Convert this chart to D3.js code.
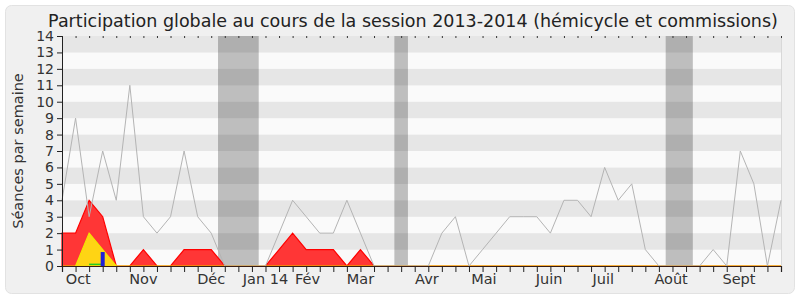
<!DOCTYPE html>
<html>
<head>
<meta charset="utf-8">
<script src="https://cdn.jsdelivr.net/npm/d3@7"></script>
<style>
  body { margin: 0; background: #ffffff; }
  svg text { font-family: "DejaVu Sans", sans-serif; fill: #333333; }
</style>
</head>
<body>
<svg id="chart" width="800" height="300"></svg>
<script>
// weekly values, week 0 .. week 53
var totalWeeks = [4,9,3,7,4,11,3,2,3,7,3,2,0,0,0,0,2,4,3,2,2,4,2,0,0,0,0,0,2,3,0,1,2,3,3,3,2,4,4,3,6,4,5,1,0,0,0,0,1,0,7,5,0,4];
var hemicycle  = [2,2,4,3,0,0,1,0,0,1,1,1,0,0,0,0,1,2,1,1,1,0,1,0,0,0,0,0,0,0,0,0,0,0,0,0,0,0,0,0,0,0,0,0,0,0,0,0,0,0,0,0,0,0];
var commission = [0,0,2,1,0,0,0,0,0,0,0,0,0,0,0,0,0,0,0,0,0,0,0,0,0,0,0,0,0,0,0,0,0,0,0,0,0,0,0,0,0,0,0,0,0,0,0,0,0,0,0,0,0,0];
var greenLine  = [0,0,0.1,0.1,0,0,0,0,0,0,0,0,0,0,0,0,0,0,0,0,0,0,0,0,0,0,0,0,0,0,0,0,0,0,0,0,0,0,0,0,0,0,0,0,0,0,0,0,0,0,0,0,0,0];
var questions  = [{week: 3, value: 0.85}];
var vacations  = [[12,14],[25,25],[45,46]];
var monthLabels = ["Oct","Nov","Déc","Jan 14","Fév","Mar","Avr","Mai","Juin","Juil","Août","Sept"];
var monthWeeks  = [1.2,6,11,15,18.1,22,26.9,31.1,35.9,39.9,44.9,49.9];
var yTicks = d3.range(0, 15);

var svg = d3.select("#chart");

var x = d3.scaleLinear().domain([0, 53]).range([62, 781]);
var y = d3.scaleLinear().domain([0, 14]).range([266, 36]);

// frame
svg.append("rect")
  .attr("x", 5.5).attr("y", 5.5).attr("width", 789).attr("height", 288)
  .attr("rx", 6).attr("fill", "#f0f0f0").attr("stroke", "#e2e2e2");

// stripes
svg.selectAll("rect.band").data(d3.range(0, 14)).enter().append("rect")
  .attr("class", "band")
  .attr("x", x(0)).attr("width", x(53) - x(0))
  .attr("y", function(k) { return y(k + 1); })
  .attr("height", function(k) { return y(k) - y(k + 1); })
  .attr("fill", function(k) { return k % 2 ? "#e6e6e6" : "#fafafa"; });

svg.append("line")
  .attr("x1", x(53) + 0.5).attr("x2", x(53) + 0.5)
  .attr("y1", y(14)).attr("y2", y(0))
  .attr("stroke", "#d8d8d8");

// vacations
svg.selectAll("rect.vac").data(vacations).enter().append("rect")
  .attr("class", "vac")
  .attr("x", function(d) { return x(d[0] - 0.5); })
  .attr("width", function(d) { return x(d[1] + 0.5) - x(d[0] - 0.5); })
  .attr("y", y(14)).attr("height", y(0) - y(14))
  .attr("fill", "#000000").attr("fill-opacity", 0.24);

var area = function(vals) {
  return d3.area()
    .x(function(d, i) { return x(i); })
    .y0(y(0))
    .y1(function(d) { return y(d); })(vals);
};
var line = function(vals, onlyPositive) {
  return d3.line()
    .defined(function(d) { return !onlyPositive || d > 0; })
    .x(function(d, i) { return x(i); })
    .y(function(d) { return y(d); })(vals);
};

svg.append("path").attr("d", area(hemicycle))
  .attr("fill", "#ff3636").attr("stroke", "#ff0000").attr("stroke-width", 1.2);

svg.append("path").attr("d", area(commission))
  .attr("fill", "#ffd414").attr("stroke", "#f2e600").attr("stroke-width", 1.2);

svg.append("path").attr("d", line(totalWeeks))
  .attr("fill", "none").attr("stroke", "#b4b4b4").attr("stroke-width", 1);

// axes
var xAxis = d3.axisBottom(x).tickValues(d3.range(0, 54)).tickSize(6).tickFormat("");
var gx = svg.append("g").attr("transform", "translate(0," + y(0) + ")").call(xAxis);
gx.select(".domain").attr("stroke", "#3a1c12").attr("stroke-width", 1.2);
gx.selectAll(".tick line").attr("stroke", "#222");

var gTop = svg.append("g").attr("transform", "translate(0," + y(14) + ")")
  .call(d3.axisBottom(x).tickValues(d3.range(0, 54)).tickSize(2).tickFormat(""));
gTop.select(".domain").remove();
gTop.selectAll(".tick line").attr("stroke", "#333");

svg.append("path").attr("d", line(greenLine, true))
  .attr("fill", "none").attr("stroke", "#22cc22").attr("stroke-width", 1.5);

svg.selectAll("rect.q").data(questions).enter().append("rect")
  .attr("class", "q")
  .attr("x", function(d) { return x(d.week) - 2; })
  .attr("width", 4)
  .attr("y", function(d) { return y(d.value); })
  .attr("height", function(d) { return y(0) - y(d.value); })
  .attr("fill", "#2020d8");

var gy = svg.append("g").attr("transform", "translate(" + x(0) + ",0)")
  .call(d3.axisLeft(y).tickValues(yTicks).tickSize(5).tickPadding(3));
gy.select(".domain").attr("stroke", "#222");
gy.selectAll(".tick line").attr("stroke", "#222");
gy.selectAll("text").style("font-size", "14px").style("font-family", "DejaVu Sans").attr("fill", "#333");

svg.selectAll("text.month").data(monthLabels).enter().append("text")
  .attr("class", "month")
  .attr("x", function(d, i) { return x(monthWeeks[i]); })
  .attr("y", 284)
  .attr("text-anchor", "middle")
  .style("font-size", "14.5px")
  .text(function(d) { return d; });

svg.append("text")
  .attr("transform", "translate(23,151) rotate(-90)")
  .attr("text-anchor", "middle")
  .style("font-size", "14.5px")
  .style("fill", "#333")
  .text("Séances par semaine");

svg.append("text")
  .attr("x", 413).attr("y", 27)
  .attr("text-anchor", "middle")
  .style("font-size", "17.5px")
  .style("fill", "#222")
  .text("Participation globale au cours de la session 2013-2014 (hémicycle et commissions)");
</script>
</body>
</html>
